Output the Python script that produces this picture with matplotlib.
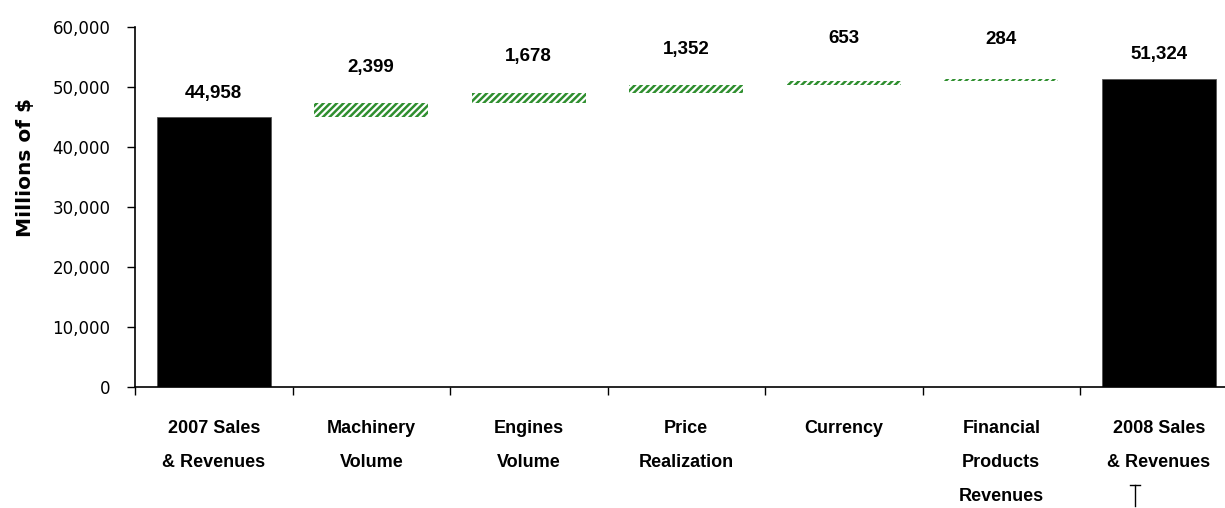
import matplotlib
matplotlib.use("Agg")
import matplotlib.pyplot as plt
import numpy as np
from matplotlib.lines import Line2D

# Sales & revenues bridge, 2007 -> 2008 (millions of $)
categories = ["2007 Sales\n& Revenues", "Machinery\nVolume", "Engines\nVolume",
              "Price\nRealization", "Currency", "Financial\nProducts\nRevenues",
              "2008 Sales\n& Revenues"]
start_total = 44958
changes = [2399, 1678, 1352, 653, 284]
end_total = 51324
y_ticks = [0, 10000, 20000, 30000, 40000, 50000, 60000]

plt.rcParams["hatch.linewidth"] = 1.8
label_font = ["Liberation Sans", "DejaVu Sans"]
tick_font = ["DejaVu Sans"]

W, H = 1225, 508
fig = plt.figure(figsize=(W / 100, H / 100), dpi=100)
ax = fig.add_axes([135 / W, 121 / H, (1237.5 - 135) / W, 360 / H])

x = np.arange(len(categories))
bar_w = 0.725
green = "#2F8F2F"

# Totals
ax.bar(x[0], start_total, width=bar_w, color="black", edgecolor="#555555", linewidth=0.6)
ax.bar(x[-1], end_total, width=bar_w, color="black", edgecolor="#555555", linewidth=0.6)

# Floating increments
bottoms = start_total + np.concatenate([[0], np.cumsum(changes)[:-1]])
ax.bar(x[1:-1], changes, bottom=bottoms, width=bar_w, color="white",
       edgecolor=green, linewidth=0, hatch="/////")

# Value labels
label_offsets = [24, 35, 36, 35, 42, 40, 25]  # pixels above bar top
tops = [start_total] + list(bottoms + np.array(changes)) + [end_total]
values = [start_total] + changes + [end_total]
for xi, top, val, off in zip(x, tops, values, label_offsets):
    ax.annotate(f"{val:,}", xy=(xi, top), xytext=(0, off * 0.72),
                textcoords="offset points", ha="center", va="center",
                fontsize=13.5, fontweight="bold", family=label_font)

ax.set_xlim(-0.5, len(categories) - 0.5)
ax.set_ylim(0, 60000)
ax.set_yticks(y_ticks)
ax.set_yticklabels([f"{v:,}" for v in y_ticks], family=tick_font, fontsize=12)
ax.tick_params(axis="y", direction="out", length=5.8, width=1, pad=12)

# Category boundaries as ticks, labels centred under the bars
ax.set_xticks(np.arange(len(categories)) - 0.5)
ax.set_xticklabels([])
ax.tick_params(axis="x", which="major", direction="out", length=6, width=1)
ax.set_xticks(x, minor=True)
ax.set_xticklabels(categories, minor=True, fontsize=13, fontweight="bold",
                   family=label_font, linespacing=2.3, va="top")
ax.tick_params(axis="x", which="minor", length=0, pad=24)

for s in ["top", "right"]:
    ax.spines[s].set_visible(False)
for s in ["left", "bottom"]:
    ax.spines[s].set_linewidth(1.2)

ax.set_ylabel("Millions of $", fontsize=14.5, fontweight="bold", family=tick_font)
ax.yaxis.set_label_coords(-0.0905, 0.611)

# I-beam marker below the last label
fig.add_artist(Line2D([1135 / W, 1135 / W], [1 - 485 / H, 1 - 506 / H], color="black", lw=1))
fig.add_artist(Line2D([1130 / W, 1140 / W], [1 - 485 / H, 1 - 485 / H], color="black", lw=1))

fig.savefig("out.png", dpi=100, facecolor="white")
